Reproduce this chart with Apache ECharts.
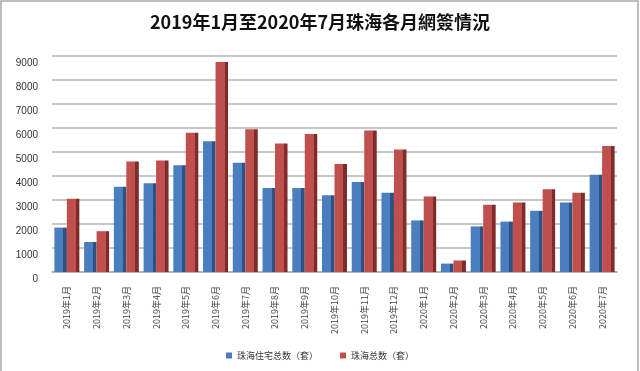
<!DOCTYPE html>
<html><head><meta charset="utf-8">
<script src="https://cdn.jsdelivr.net/npm/echarts@6/dist/echarts.min.js"></script>
<style>html,body{margin:0;padding:0;background:#fff}#c{width:640px;height:371px}</style>
</head><body><div id="c"></div>
<script>
const titleText = '2019年1月至2020年7月珠海各月網簽情況';
const categories = ['2019年1月','2019年2月','2019年3月','2019年4月','2019年5月','2019年6月','2019年7月','2019年8月','2019年9月','2019年10月','2019年11月','2019年12月','2020年1月','2020年2月','2020年3月','2020年4月','2020年5月','2020年6月','2020年7月'];
const residentialName = '珠海住宅总数（套）';
const totalName = '珠海总数（套）';
const residential = [1850,1250,3550,3700,4450,5450,4550,3500,3500,3200,3750,3300,2150,350,1900,2100,2550,2900,4050];
const total = [3050,1700,4600,4650,5800,8750,5950,5350,5750,4500,5900,5100,3150,480,2800,2900,3450,3300,5250];
const yTicks = [0,1000,2000,3000,4000,5000,6000,7000,8000,9000];

function faceGradient(front, side) {
  return new echarts.graphic.LinearGradient(0,0,1,0,[
    {offset:0,color:front},{offset:0.72,color:front},
    {offset:0.72,color:side},{offset:1,color:side}
  ]);
}
const chart = echarts.init(document.getElementById('c'));
chart.setOption({
  backgroundColor:'#fff',
  animation:false,
  title:{text:titleText,left:'center',top:8,textStyle:{fontFamily:'Noto Sans CJK TC',fontSize:18,fontWeight:'bold',color:'#111'}},
  legend:{bottom:6,left:'center',itemWidth:6,itemHeight:6,itemGap:22,icon:'rect',
    textStyle:{fontFamily:'Noto Sans CJK SC',fontSize:9,color:'#333'},
    data:[{name:residentialName,itemStyle:{color:'#4a7ebf'}},{name:totalName,itemStyle:{color:'#c0504d'}}]},
  grid:{left:52,right:23,top:56,bottom:99},
  xAxis:{type:'category',data:categories,
    axisLine:{lineStyle:{color:'#b0b0b0',width:1.5}},axisTick:{show:false},
    axisLabel:{rotate:90,margin:14,interval:0,fontFamily:'Noto Sans CJK SC',fontSize:9,color:'#444'}},
  yAxis:{type:'value',min:yTicks[0],max:yTicks[yTicks.length-1],interval:1000,
    axisLine:{show:false},axisTick:{show:false},
    splitLine:{lineStyle:{color:'#b4b4b4',width:1.5}},
    axisLabel:{margin:14,fontFamily:'Liberation Sans',fontSize:10,color:'#333',verticalAlign:'top',padding:[2,0,0,0],
      formatter:function(v){return String(v);}}},
  series:[
    {name:residentialName,type:'bar',data:residential,barGap:'0%',barCategoryGap:'16%',
      itemStyle:{color:faceGradient('#4a7ebf','#2f5282')}},
    {name:totalName,type:'bar',data:total,
      itemStyle:{color:faceGradient('#c0504d','#7e2b29')}}
  ],
  graphic:[{type:'rect',shape:{x:1,y:1,width:637,height:372},style:{fill:null,stroke:'#a8a8a8',lineWidth:1.5},silent:true}]
});
</script></body></html>
